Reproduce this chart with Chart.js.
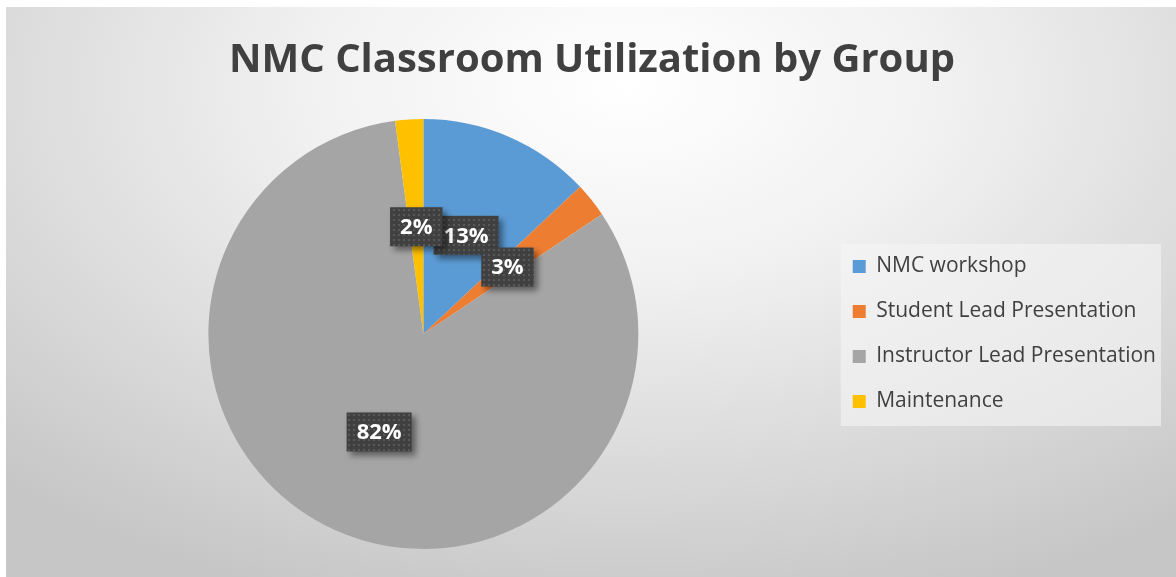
<!DOCTYPE html>
<html>
<head>
<meta charset="utf-8">
<script src="https://cdn.jsdelivr.net/npm/chart.js@4.4.1/dist/chart.umd.min.js"></script>
<style>
  html, body { margin: 0; padding: 0; background: #fff; }
  #wrap {
    position: absolute; left: 6px; top: 7px; width: 1170px; height: 570px;
    background: radial-gradient(ellipse 78% 95% at 53% 14%, #ffffff 0%, #f1f1f1 35%, #c6c6c6 100%);
  }
</style>
</head>
<body>
<div id="wrap"><canvas id="pie"></canvas></div>
<script>
var labels = ['NMC workshop', 'Student Lead Presentation', 'Instructor Lead Presentation', 'Maintenance'];
var values = [13.0, 2.6, 82.3, 2.1];
var colors = ['#5B9BD5', '#ED7D31', '#A5A5A5', '#FFC000'];

// dotted dark fill used behind the percent labels
var pat = document.createElement('canvas');
pat.width = 5; pat.height = 5;
var pc = pat.getContext('2d');
pc.fillStyle = '#404040';
pc.fillRect(0, 0, 5, 5);
pc.fillStyle = '#585858';
pc.fillRect(2, 2, 2, 2);

var legendBg = {
    id: 'legendBg',
    beforeDraw: function(chart) {
        var boxes = chart.legend.legendHitBoxes;
        if (!boxes || !boxes.length) return;
        var ctx = chart.ctx;
        var first = boxes[0], last = boxes[boxes.length - 1];
        var x = first.left - 12, y = first.top - 12;
        var w = chart.legend.right - 5 - x;
        var h = last.top + last.height + 14 - y;
        ctx.save();
        ctx.fillStyle = 'rgba(245,245,245,0.6)';
        ctx.fillRect(x, y, w, h);
        ctx.restore();
    }
};

var pctLabels = {
    id: 'pctLabels',
    afterDatasetsDraw: function(chart) {
        var ctx = chart.ctx;
        var meta = chart.getDatasetMeta(0);
        var total = values.reduce(function(a, b) { return a + b; }, 0);
        ctx.save();
        ctx.font = 'bold 22px "Open Sans"';
        ctx.textAlign = 'center';
        ctx.textBaseline = 'middle';
        meta.data.forEach(function(arc, i) {
            var p = arc.tooltipPosition();
            var txt = Math.round(values[i] / total * 100) + '%';
            var w = ctx.measureText(txt).width + 20;
            var h = 39;
            ctx.save();
            ctx.shadowColor = 'rgba(0,0,0,0.45)';
            ctx.shadowBlur = 6;
            ctx.shadowOffsetX = 4;
            ctx.shadowOffsetY = 4;
            ctx.fillStyle = ctx.createPattern(pat, 'repeat');
            ctx.fillRect(p.x - w / 2, p.y - h / 2, w, h);
            ctx.restore();
            ctx.fillStyle = '#ffffff';
            ctx.fillText(txt, p.x, p.y + 1);
        });
        ctx.restore();
    }
};

var ctx = document.getElementById('pie').getContext('2d');
var chart = new Chart(ctx, {
    type: 'pie',
    data: {
        labels: labels,
        datasets: [{
            data: values,
            backgroundColor: colors,
            borderWidth: 0
        }]
    },
    options: {
        responsive: true,
        maintainAspectRatio: false,
        animation: false,
        layout: { padding: { left: 12, right: 10, top: 0, bottom: 28 } },
        plugins: {
            title: {
                display: true,
                text: 'NMC Classroom Utilization by Group',
                color: '#404040',
                font: { family: 'Open Sans', size: 40, weight: 'bold', lineHeight: 1.2 },
                padding: { top: 30, bottom: 34 }
            },
            legend: {
                position: 'right',
                fullSize: false,
                labels: {
                    color: '#404040',
                    font: { family: 'Open Sans', size: 21 },
                    boxWidth: 13,
                    boxHeight: 13,
                    padding: 24
                }
            },
            tooltip: { enabled: false }
        }
    },
    plugins: [legendBg, pctLabels]
});
</script>
</body>
</html>
